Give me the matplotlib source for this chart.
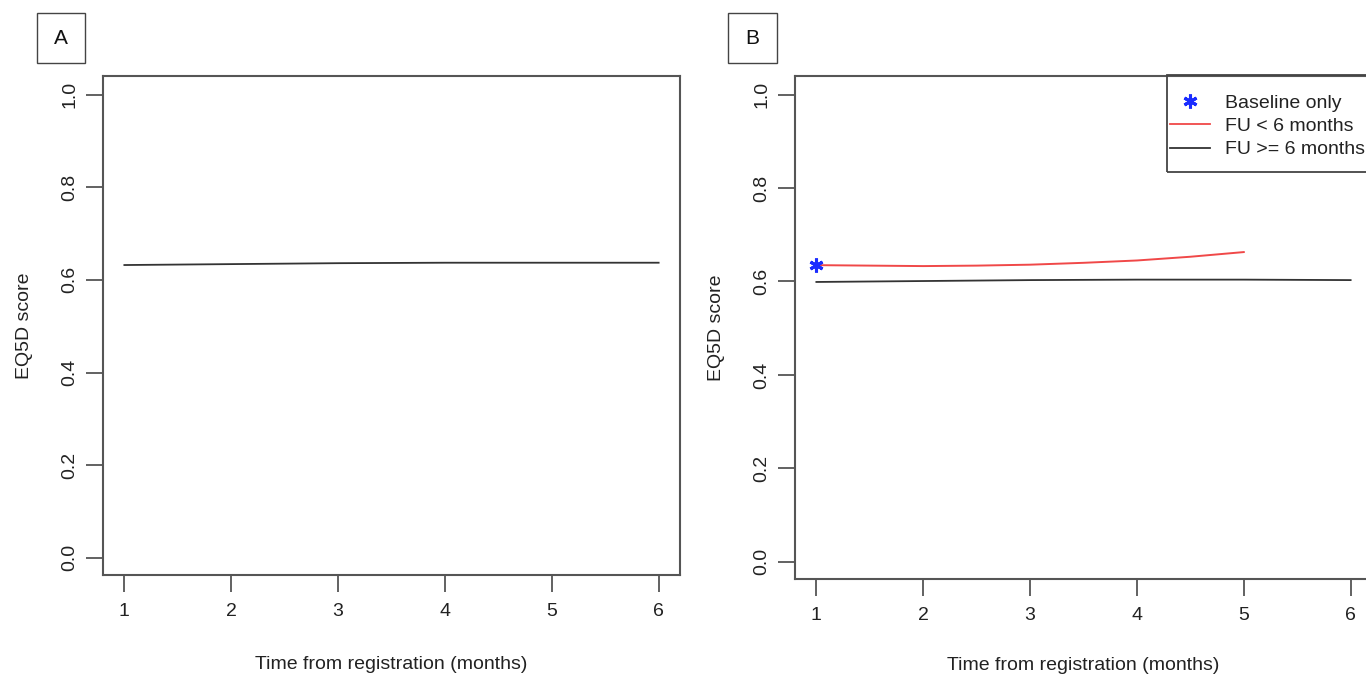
import matplotlib
matplotlib.use("Agg")
import matplotlib.pyplot as plt
from matplotlib.lines import Line2D

plt.rcParams["font.family"] = ["Liberation Sans", "DejaVu Sans"]

# panel A: overall fitted EQ5D trajectory
months_a = [1, 2, 3, 4, 5, 6]
eq5d_a = [0.632, 0.634, 0.636, 0.637, 0.637, 0.637]

# panel B: by follow-up group
months_short = [1, 1.5, 2, 2.5, 3, 3.5, 4, 4.5, 5]
eq5d_short = [0.635, 0.634, 0.633, 0.634, 0.636, 0.640, 0.645, 0.653, 0.663]
months_long = [1, 2, 3, 4, 5, 6]
eq5d_long = [0.599, 0.601, 0.603, 0.604, 0.604, 0.603]
baseline_x = [1]
baseline_y = [0.636]

xticks = [1, 2, 3, 4, 5, 6]
yticks = [0.0, 0.2, 0.4, 0.6, 0.8, 1.0]
legend_labels = ["Baseline only", "FU < 6 months", "FU >= 6 months"]

W, H = 1366, 674
fig = plt.figure(figsize=(W / 100, H / 100), dpi=100)

SPINE = "#555555"
LINE = "#333333"
TEXT = "#222222"
RED = "#f04848"
BLUE = "#1a2cff"
FS = 14


def px_axes(left, top, right, bottom):
    return fig.add_axes([left / W, 1 - bottom / H, (right - left) / W, (bottom - top) / H])


def px_box(x0, y0, x1, y1, lw=1.0):
    fig.patches.append(plt.Rectangle((x0 / W, 1 - y1 / H), (x1 - x0) / W, (y1 - y0) / H,
                                     transform=fig.transFigure, fill=False,
                                     edgecolor="#444444", linewidth=lw))


def style(ax, xlabelpad):
    ax.set_xlim(0.8, 6.2)
    ax.set_ylim(-0.037, 1.04)
    ax.set_xticks(xticks)
    ax.set_yticks(yticks)
    ax.set_yticklabels([f"{v:.1f}" for v in yticks], rotation=90, va="center")
    ax.tick_params(direction="out", length=12, width=1.3, color=SPINE,
                   labelsize=FS, labelcolor=TEXT, pad=8)
    ax.tick_params(axis="y", pad=6)
    for s in ax.spines.values():
        s.set_color(SPINE)
        s.set_linewidth(1.5)
    ax.set_xlabel("Time from registration (months)", fontsize=FS, color=TEXT, labelpad=xlabelpad)
    ax.set_ylabel("EQ5D score", fontsize=FS, color=TEXT, labelpad=20)


def panel_tag(x0, y0, x1, y1, text):
    px_box(x0, y0, x1, y1)
    fig.text((x0 + x1) / 2 / W, 1 - (y0 + y1) / 2 / H, text, ha="center", va="center",
             fontsize=15, color="#111111")


# panel A
ax_a = px_axes(103, 76, 680, 575)
ax_a.plot(months_a, eq5d_a, color=LINE, linewidth=1.3)
style(ax_a, 26)
panel_tag(37, 13, 85, 63, "A")

# panel B
ax_b = px_axes(795, 76, 1372, 579)
ax_b.plot(months_short, eq5d_short, color=RED, linewidth=1.4)
ax_b.plot(months_long, eq5d_long, color=LINE, linewidth=1.3)
ax_b.plot(baseline_x, baseline_y, linestyle="none", marker=(6, 2, 0), markersize=10,
          markeredgewidth=2.2, color=BLUE)
style(ax_b, 24)
panel_tag(728, 13, 777, 63, "B")

# legend (frame drawn separately, it runs off the right edge like the original)
handles = [
    Line2D([], [], linestyle="none", marker=(6, 2, 0), markersize=10, markeredgewidth=2.2, color=BLUE),
    Line2D([], [], color=RED, linewidth=1.3),
    Line2D([], [], color=LINE, linewidth=1.3),
]
leg = fig.legend(handles, legend_labels, loc="upper left",
                 bbox_to_anchor=(1170 / W, 1 - 94 / H), fontsize=FS,
                 frameon=False, handlelength=2.05, handletextpad=0.8,
                 borderpad=0, labelspacing=0.3, borderaxespad=0)
for t in leg.get_texts():
    t.set_color(TEXT)
px_box(1167, 75, 1372, 172, lw=1.3)

fig.savefig("out.png", dpi=100)
